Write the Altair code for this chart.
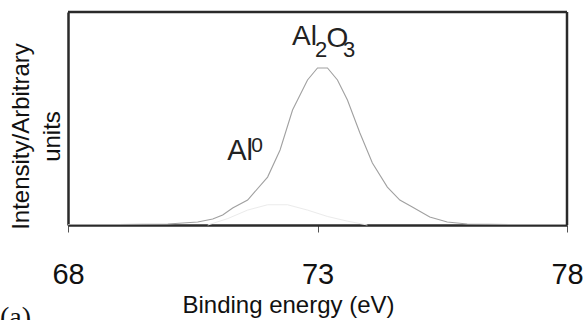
import altair as alt
import pandas as pd

main_ev = [68.0, 69.0, 70.0, 70.6, 70.9, 71.1, 71.3, 71.6, 72.0, 72.25, 72.5, 72.8,
           73.0, 73.2, 73.4, 73.6, 73.85, 74.1, 74.4, 74.65, 74.9, 75.25, 75.6, 76.0, 77.0, 78.0]
main_int = [0.002, 0.002, 0.005, 0.014, 0.028, 0.047, 0.080, 0.117, 0.225, 0.352, 0.540, 0.681,
            0.737, 0.737, 0.681, 0.587, 0.432, 0.291, 0.178, 0.117, 0.085, 0.038, 0.014, 0.005, 0.002, 0.002]

comp_ev = [70.8, 71.2, 71.6, 72.0, 72.4, 72.8, 73.2, 73.6, 74.0]
comp_int = [0.0, 0.03, 0.07, 0.095, 0.095, 0.07, 0.04, 0.018, 0.0]

ann_text = ["Al", "2", "O", "3", "Al", "0"]
ann_ev = [72.49, 72.95, 73.18, 73.51, 71.19, 71.67]
ann_int = [0.845, 0.790, 0.836, 0.790, 0.305, 0.343]
ann_fs = [28, 22, 28, 22, 29, 21]

x_ticks = [68, 73, 78]
x_range = [68, 78]
y_range = [0, 1]

# frame edges: top edge (y = 1) and right edge (x = 78)
frame_x0 = [68, 78]
frame_x1 = [78, 78]
frame_y0 = [1, 0]
frame_y1 = [1, 1]

main_df = pd.DataFrame({"ev": main_ev, "inten": main_int})
comp_df = pd.DataFrame({"ev": comp_ev, "inten": comp_int})
ann_df = pd.DataFrame({"t": ann_text, "ev": ann_ev, "inten": ann_int, "fs": ann_fs})
frame_df = pd.DataFrame({"x0": frame_x0, "x1": frame_x1, "y0": frame_y0, "y1": frame_y1})

FONT = "Liberation Sans, Arial, sans-serif"
FRAME = "#2a2a2a"

xscale = alt.Scale(domain=x_range, nice=False, zero=False)
yscale = alt.Scale(domain=y_range, nice=False)

xaxis = alt.Axis(values=x_ticks, title="Binding energy (eV)", grid=False,
                 domainColor=FRAME, domainWidth=2.5, tickColor="#555555",
                 tickSize=7, tickWidth=1, labelFlush=False, labelPadding=28,
                 labelFont=FONT, labelFontSize=29, labelColor="#111111",
                 titleFont=FONT, titleFontSize=24, titleFontWeight="normal",
                 titleColor="#111111", titleX=220, titleY=87,
                 titleBaseline="alphabetic", titleAlign="center")
yaxis = alt.Axis(title=["Intensity/Arbitrary", "units"], grid=False, labels=False,
                 ticks=False, domainColor=FRAME, domainWidth=2.5,
                 titleFont=FONT, titleFontSize=24, titleFontWeight="normal",
                 titleColor="#111111", titleLineHeight=31, titleX=-40, titleY=124,
                 titleBaseline="alphabetic", titleAlign="center", titleAngle=270)

main_line = alt.Chart(main_df).mark_line(color="#a0a0a0", strokeWidth=1.1).encode(
    x=alt.X("ev:Q", scale=xscale, axis=xaxis),
    y=alt.Y("inten:Q", scale=yscale, axis=yaxis),
)

frame_rules = alt.Chart(frame_df).mark_rule(color=FRAME, strokeWidth=2.5).encode(
    x=alt.X("x0:Q", scale=xscale),
    x2="x1:Q",
    y=alt.Y("y0:Q", scale=yscale),
    y2="y1:Q",
)

comp_line = alt.Chart(comp_df).mark_line(color="#ebebeb", strokeWidth=1).encode(
    x=alt.X("ev:Q", scale=xscale),
    y=alt.Y("inten:Q", scale=yscale),
)

labels = alt.Chart(ann_df).mark_text(align="left", baseline="alphabetic",
                                     font=FONT, color="#222222").encode(
    x=alt.X("ev:Q", scale=xscale),
    y=alt.Y("inten:Q", scale=yscale),
    text="t:N",
    size=alt.Size("fs:Q", scale=None),
)

panel = alt.Chart(pd.DataFrame({"t": ["(a)"]})).mark_text(
    align="left", baseline="alphabetic", font="Liberation Serif, Times New Roman, serif",
    fontSize=28, color="#111111").encode(
    x=alt.value(-68), y=alt.value(314), text="t:N")

chart = alt.layer(main_line, comp_line, frame_rules, labels, panel).properties(
    width=499, height=213,
    background="white",
    autosize=alt.AutoSizeParams(type="none"),
    padding={"left": 68, "top": 12, "right": 20, "bottom": 95},
)

chart.save("out.html", embed_options={"renderer": "svg", "actions": False})
